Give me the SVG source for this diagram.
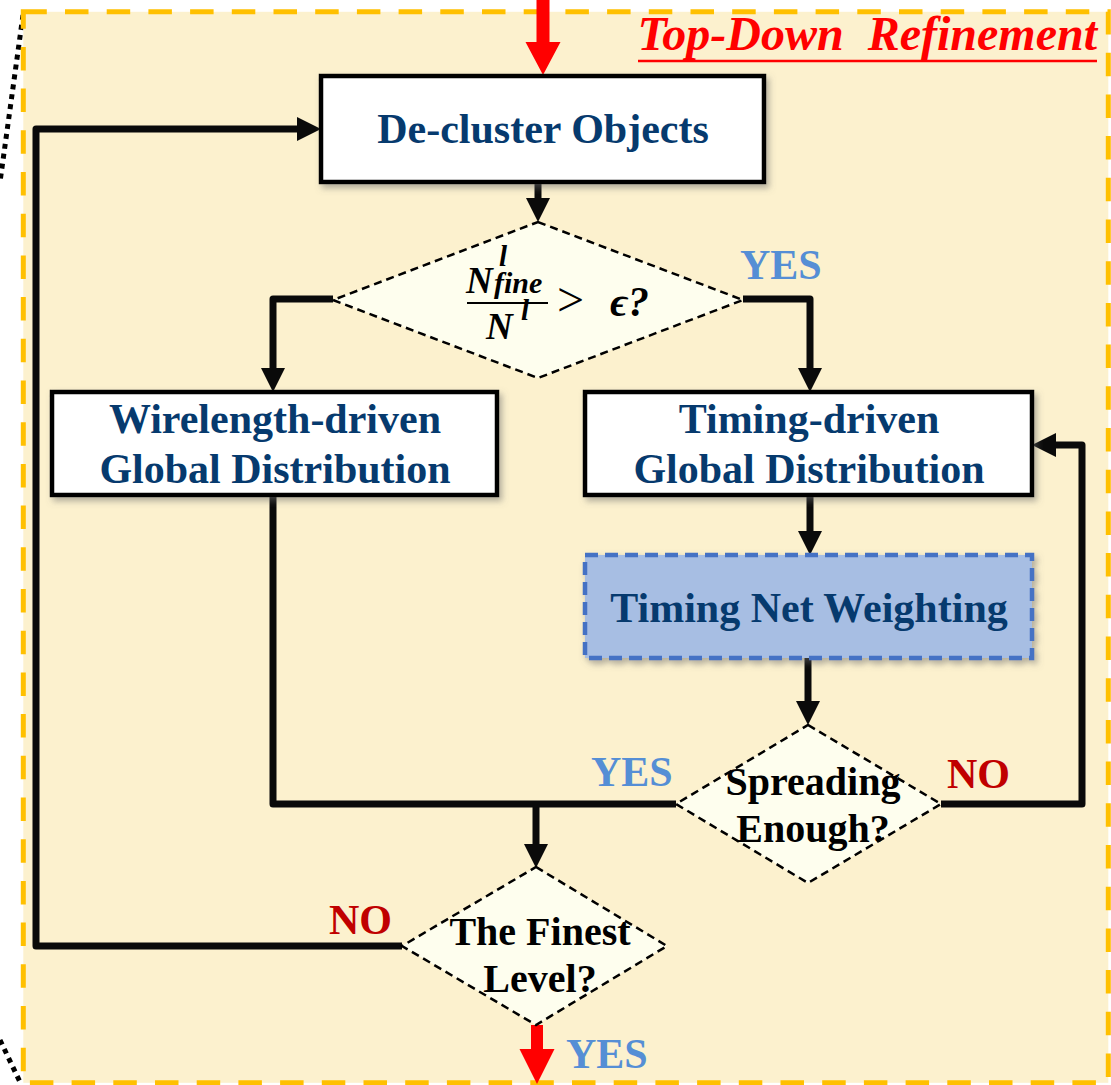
<svg xmlns="http://www.w3.org/2000/svg" width="1111" height="1085" viewBox="0 0 1111 1085">
  <style>
    .box { fill: #FFFFFF; stroke: #000000; stroke-width: 4.5; filter: url(#shadow); }
    .wbox { fill: #A7BEE3; stroke: #4472C4; stroke-width: 4.5; stroke-dasharray: 13 7; filter: url(#shadow); }
    .dia { fill: #FEFEEE; stroke: #000000; stroke-width: 2.5; stroke-dasharray: 8 5; }
    .lbl { font-family: "Liberation Serif", "Times New Roman", serif; font-weight: bold; font-size: 42px; fill: #063A6E; text-anchor: middle; }
    .q { font-family: "Liberation Serif", "Times New Roman", serif; font-weight: bold; font-size: 40px; fill: #000000; text-anchor: middle; }
    .yes { font-family: "Liberation Serif", "Times New Roman", serif; font-weight: bold; font-size: 42px; fill: #558ED5; }
    .no { font-family: "Liberation Serif", "Times New Roman", serif; font-weight: bold; font-size: 42px; fill: #C00000; }
    .math { font-family: "Liberation Serif", "DejaVu Serif", serif; font-weight: bold; font-style: italic; fill: #000000; }
    .flow { fill: none; stroke: #0A0A0A; stroke-width: 7; stroke-linejoin: round; marker-end: url(#head); }
    .line { fill: none; stroke: #0A0A0A; stroke-width: 7; stroke-linejoin: round; }
    .red { fill: #FF0000; }
  </style>
  <defs>
    <filter id="shadow" x="-10%" y="-20%" width="130%" height="160%">
      <feDropShadow dx="3" dy="4" stdDeviation="3" flood-color="#6b6b6b" flood-opacity="0.5"/>
    </filter>
    <marker id="head" viewBox="0 0 24 24" refX="1" refY="12" markerWidth="24" markerHeight="24" markerUnits="userSpaceOnUse" orient="auto">
      <path d="M0,0 L24,12 L0,24 z" fill="#0A0A0A"/>
    </marker>
  </defs>

  <!-- outer dotted guide strokes -->
  <line x1="23" y1="15" x2="0" y2="182" stroke="#000" stroke-width="5" stroke-dasharray="5 5"/>
  <line x1="0" y1="1040" x2="20" y2="1082" stroke="#000" stroke-width="5" stroke-dasharray="5 5"/>

  <!-- refinement panel -->
  <rect x="23.3" y="11.8" width="1085" height="1071" fill="#FCF1CE" stroke="#FFC000" stroke-width="5" stroke-dasharray="23.5 18.2"/>

  <!-- panel title -->
  <g id="title">
    <text x="1097" y="50" xml:space="preserve" font-family="Liberation Serif, Times New Roman, serif" font-weight="bold" font-style="italic" font-size="48" fill="#FF0000" text-anchor="end">Top-Down  Refinement</text>
    <line x1="638" y1="61" x2="1097" y2="61" stroke="#FF0000" stroke-width="2.5"/>
  </g>

  <!-- connectors -->
  <g id="connectors">
    <polygon class="red" points="536.5,0 549.5,0 549.5,42 560.5,42 543,75 525.5,42 536.5,42"/>
    <polyline class="flow" points="538,182 538,199"/>
    <polyline class="flow" points="333,299 273,299 273,369"/>
    <polyline class="flow" points="743,299 810,299 810,369"/>
    <polyline class="flow" points="810,495 810,532"/>
    <polyline class="flow" points="808,658 808,702"/>
    <polyline class="flow" points="941,804 1082,804 1082,445 1055,445"/>
    <polyline class="line" points="273,495 273,804 676,804"/>
    <polyline class="flow" points="536,804 536,845"/>
    <polyline class="flow" points="402,946 36,946 36,129 298,129"/>
    <polygon class="red" points="531,1025 543,1025 543,1049 554.5,1049 537,1084 519.5,1049 531,1049"/>
  </g>

  <!-- nodes -->
  <g id="decluster">
    <rect class="box" x="321" y="76" width="443" height="106"/>
    <text class="lbl" x="543" y="143">De-cluster Objects</text>
  </g>

  <g id="ratio-check">
    <polygon class="dia" points="538,222 743,300 538,378 333,300"/>
    <!-- N^l_fine / N^l > ϵ? -->
    <text class="math" x="466" y="293" font-size="37">N<tspan font-size="29" x="499" y="266">l</tspan><tspan font-size="30" x="494" y="293">fine</tspan></text>
    <line x1="467" y1="303" x2="548" y2="303" stroke="#000" stroke-width="2"/>
    <text class="math" x="486" y="339" font-size="37">N<tspan font-size="29" x="521" y="320">l</tspan></text>
    <text x="557" y="316" font-family="Liberation Serif, DejaVu Serif, serif" font-size="48" fill="#000">&gt;</text>
    <text class="math" x="610" y="316" font-size="42">ϵ?</text>
  </g>

  <g id="wirelength">
    <rect class="box" x="52" y="392" width="445" height="103"/>
    <text class="lbl" x="275" y="433">Wirelength-driven</text>
    <text class="lbl" x="275" y="483">Global Distribution</text>
  </g>

  <g id="timing">
    <rect class="box" x="585" y="392" width="447" height="103"/>
    <text class="lbl" x="809" y="433">Timing-driven</text>
    <text class="lbl" x="809" y="483">Global Distribution</text>
  </g>

  <g id="net-weighting">
    <rect class="wbox" x="585" y="555" width="447" height="103"/>
    <text class="lbl" x="809" y="622">Timing Net Weighting</text>
  </g>

  <g id="spreading">
    <polygon class="dia" points="808,725 941,804 808,883 676,804"/>
    <text class="q" x="813" y="795">Spreading</text>
    <text class="q" x="813" y="842">Enough?</text>
  </g>

  <g id="finest">
    <polygon class="dia" points="536,867 667,946 536,1025 402,946"/>
    <text class="q" x="540" y="945">The Finest</text>
    <text class="q" x="540" y="992">Level?</text>
  </g>

  <!-- branch labels -->
  <g id="labels">
    <text class="yes" x="740" y="279">YES</text>
    <text class="yes" x="591" y="786">YES</text>
    <text class="no" x="947" y="788">NO</text>
    <text class="no" x="329" y="934">NO</text>
    <text class="yes" x="566" y="1068">YES</text>
  </g>
</svg>
